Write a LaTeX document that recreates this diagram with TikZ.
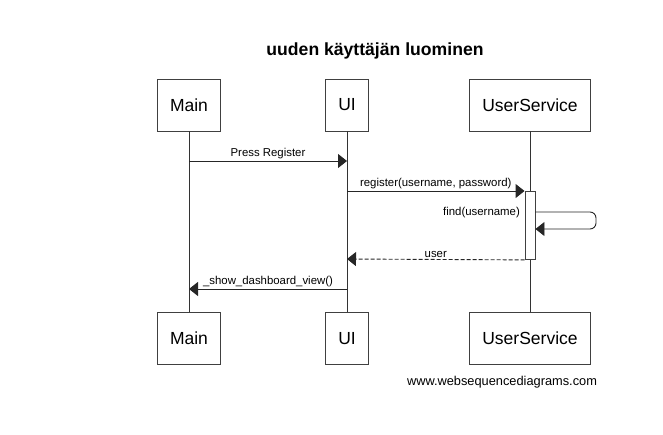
\documentclass[tikz,border=0pt]{standalone}
\usepackage{fontspec}
\setmainfont{Liberation Sans}
\usepackage{tikz}
\usetikzlibrary{arrows.meta,calc}

\tikzset{
    actor/.style={draw=black!75, fill=white, line width=0.9pt, minimum height=52pt, inner xsep=12.5pt, font=\fontsize{17.5}{20}\selectfont},
    lifeline/.style={draw=black!80, line width=0.9pt},
    msg/.style={draw=black!85, line width=0.9pt, -{Triangle[length=9pt,width=14pt]}},
    reply/.style={msg, dash pattern=on 4pt off 2pt},
    msglabel/.style={font=\fontsize{11.4}{13}\selectfont, inner sep=1.5pt}
}

\begin{document}
\begin{tikzpicture}[x=1pt, y=-1pt]
        \useasboundingbox (0,0) rectangle (663,434);

        % Otsikko
        \node[font=\bfseries\fontsize{17.6}{20}\selectfont] (title) at (375,51) {uuden käyttäjän luominen};

        % Osallistujat ja elämänlangat
        \foreach \who/\x/\txt in {main/189/Main, ui/347/UI, us/530/UserService} {
            \node[actor] (\who-top) at (\x,105) {\txt};
            \node[actor] (\who-bot) at (\x,338.5) {\txt};
            \draw[lifeline] (\who-top) -- (\who-bot);
        }

        % Viestien korkeudet
        \coordinate (y1) at (0,161);
        \coordinate (y2) at (0,191);
        \coordinate (y3) at (0,212);
        \coordinate (y4) at (0,229);
        \coordinate (y5) at (0,259);
        \coordinate (y6) at (0,289);
        \coordinate (loopx) at (596,0);

        % Aktivaatio
        \node[draw=black!75, fill=white, line width=0.9pt, minimum width=10pt, minimum height=68pt, inner sep=0pt, anchor=north] (act) at (us-top |- y2) {};

        % Viestit
        \draw[msg] (main-top |- y1) -- (ui-top |- y1)
            node[midway, above, msglabel] {Press Register};
        \draw[msg] (ui-top |- y2) -- (act.north west)
            node[midway, above, msglabel] {register(username, password)};
        \draw[msg, rounded corners=6pt] (act.east |- y3) -- (loopx |- y3) -- (loopx |- y4) -- (act.east |- y4);
        \node[msglabel, anchor=east] (findlabel) at ($(act.west |- y3)+(-3,1)$) {find(username)};
        \draw[reply] (act.south west) -- (ui-top |- y5)
            node[midway, above, msglabel] {user};
        \draw[msg] (ui-top |- y6) -- (main-top |- y6)
            node[midway, above, msglabel] {\_show\_dashboard\_view()};

        % Lähde
        \node[font=\fontsize{12.8}{15}\selectfont] (credit) at (502,382) {www.websequencediagrams.com};
    \end{tikzpicture}
\end{document}
